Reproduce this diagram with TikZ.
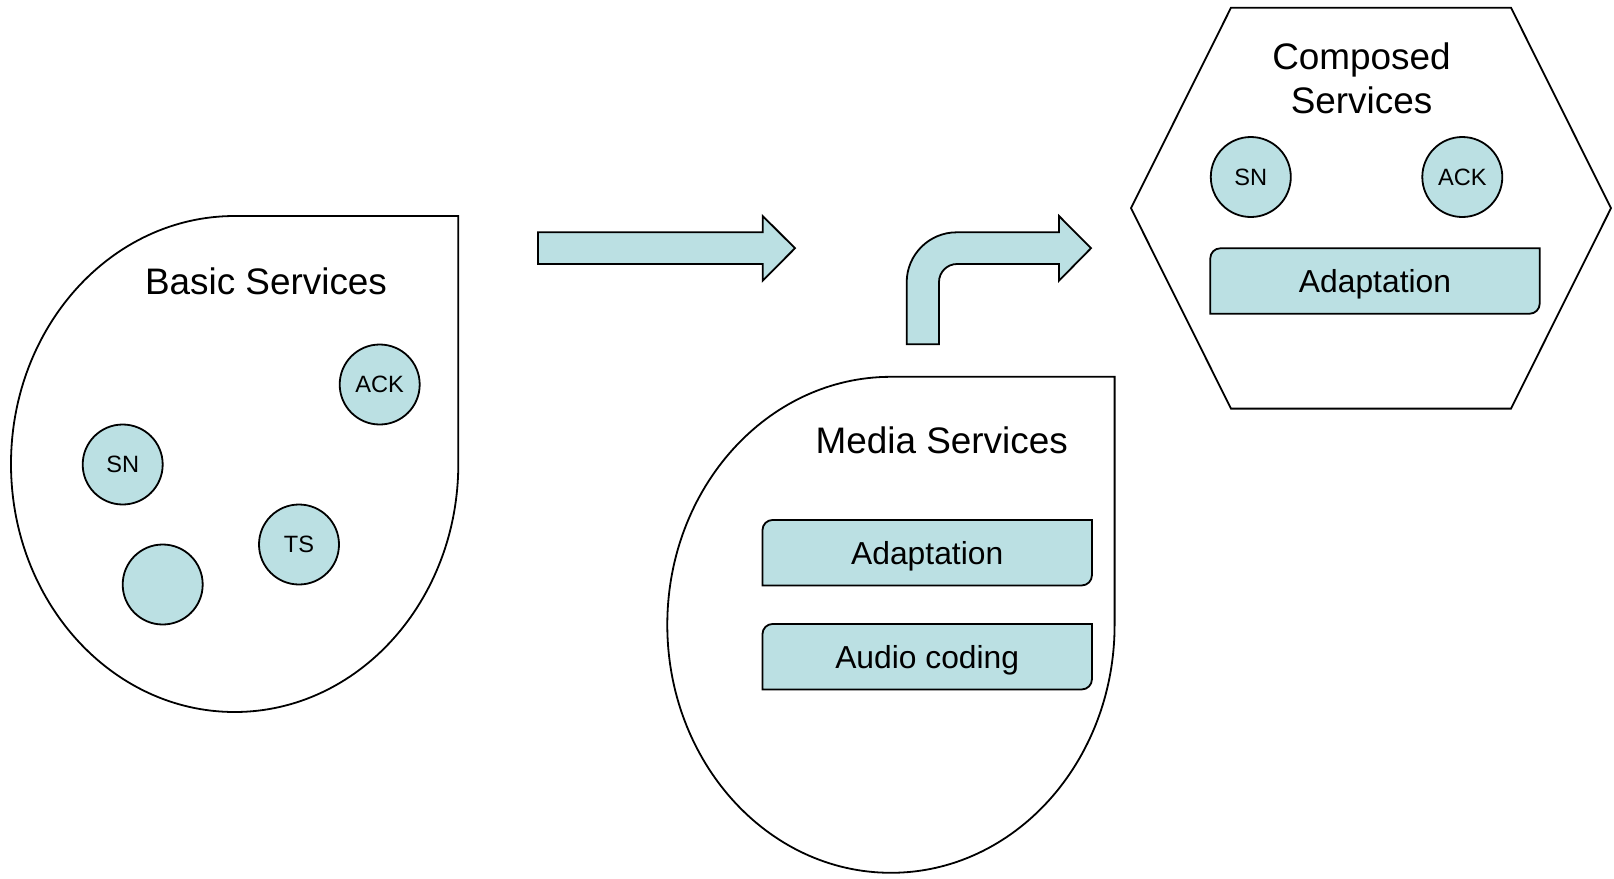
\documentclass[tikz,border=0pt]{standalone}
\usepackage{fontspec}
\setmainfont{Liberation Sans}
\usetikzlibrary{backgrounds}
\definecolor{teal}{RGB}{187,224,227}
\tikzset{
  x=0.5pt, y=-0.5pt,
  outline/.style={draw=black, line width=0.9pt, line join=miter},
  blockarrow/.style={outline, fill=teal},
  svc/.style={circle, draw=black, line width=0.9pt, fill=teal, minimum size=40pt,
    inner sep=0pt, text height=8.3pt, text depth=0pt, font=\fontsize{11.8pt}{13pt}\selectfont},
  title/.style={anchor=base, align=center, inner sep=0pt,
    font=\fontsize{18.45pt}{22pt}\selectfont},
  modbox/.style={minimum width=164.3pt, minimum height=32.3pt, inner sep=0pt,
    text height=11.4pt, text depth=0pt, font=\fontsize{15.9pt}{18pt}\selectfont},
}
% box with rounded top-left and bottom-right corners, drawn behind its label
\newcommand{\modframe}[1]{%
  \begin{scope}[on background layer]
    \draw[outline, fill=teal] (#1.south west) -- ([yshift=-5pt]#1.north west)
      arc[start angle=180, end angle=90, radius=5pt] -- (#1.north east)
      -- ([yshift=5pt]#1.south east)
      arc[start angle=0, end angle=-90, radius=5pt] -- cycle;
  \end{scope}}
\begin{document}
\begin{tikzpicture}
\useasboundingbox (0,0) rectangle (1614,879);

% Basic Services container
\draw[outline] (234.65,216) -- (458.3,216) -- (458.3,464)
  arc[start angle=0, end angle=270, x radius=223.65, y radius=248] -- cycle;
\node[title] (basic) at (266,294) {Basic Services};
\node[svc] (bACK) at (379.7,384.5) {ACK};
\node[svc] (bSN) at (122.7,464.5) {SN};
\node[svc] (bTS) at (299,544.5) {TS};
\node[svc] (bX) at (162.7,584.5) {};

% Media Services container
\draw[outline] (890.95,376.8) -- (1114.6,376.8) -- (1114.6,624.8)
  arc[start angle=0, end angle=270, x radius=223.65, y radius=248] -- cycle;
\node[title] (media) at (941.7,453.3) {Media Services};
\node[modbox] (mAd) at (927.2,552.7) {Adaptation};
\modframe{mAd}
\node[modbox] (mAu) at (927.2,656.7) {Audio coding};
\modframe{mAu}

% Composed Services container (base anchor sits on the last line)
\draw[outline] (1231,7.7) -- (1511,7.7) -- (1611,208.2) -- (1511,408.6)
  -- (1231,408.6) -- (1131,208.2) -- cycle;
\node[title] (composed) at (1361.5,113.3) {Composed\\Services};
\node[svc] (cSN) at (1250.8,177) {SN};
\node[svc] (cACK) at (1462.3,177) {ACK};
\node[modbox] (cAd) at (1375,281) {Adaptation};
\modframe{cAd}

% straight block arrow
\draw[blockarrow] (538,232.3) -- (762.7,232.3) -- (762.7,216) -- (795,248.2)
  -- (762.7,280.7) -- (762.7,264) -- (538,264) -- cycle;

% bent block arrow
\draw[blockarrow] (906.7,344.3) -- (906.7,282.3)
  .. controls (906.7,254.7) and (929.1,232.3) .. (956.7,232.3)
  -- (1059,232.3) -- (1059,216) -- (1091,248.2) -- (1059,280.7) -- (1059,264)
  -- (957,264) .. controls (947.1,264) and (939,272.1) .. (939,282)
  -- (939,344.3) -- cycle;
\end{tikzpicture}
\end{document}
